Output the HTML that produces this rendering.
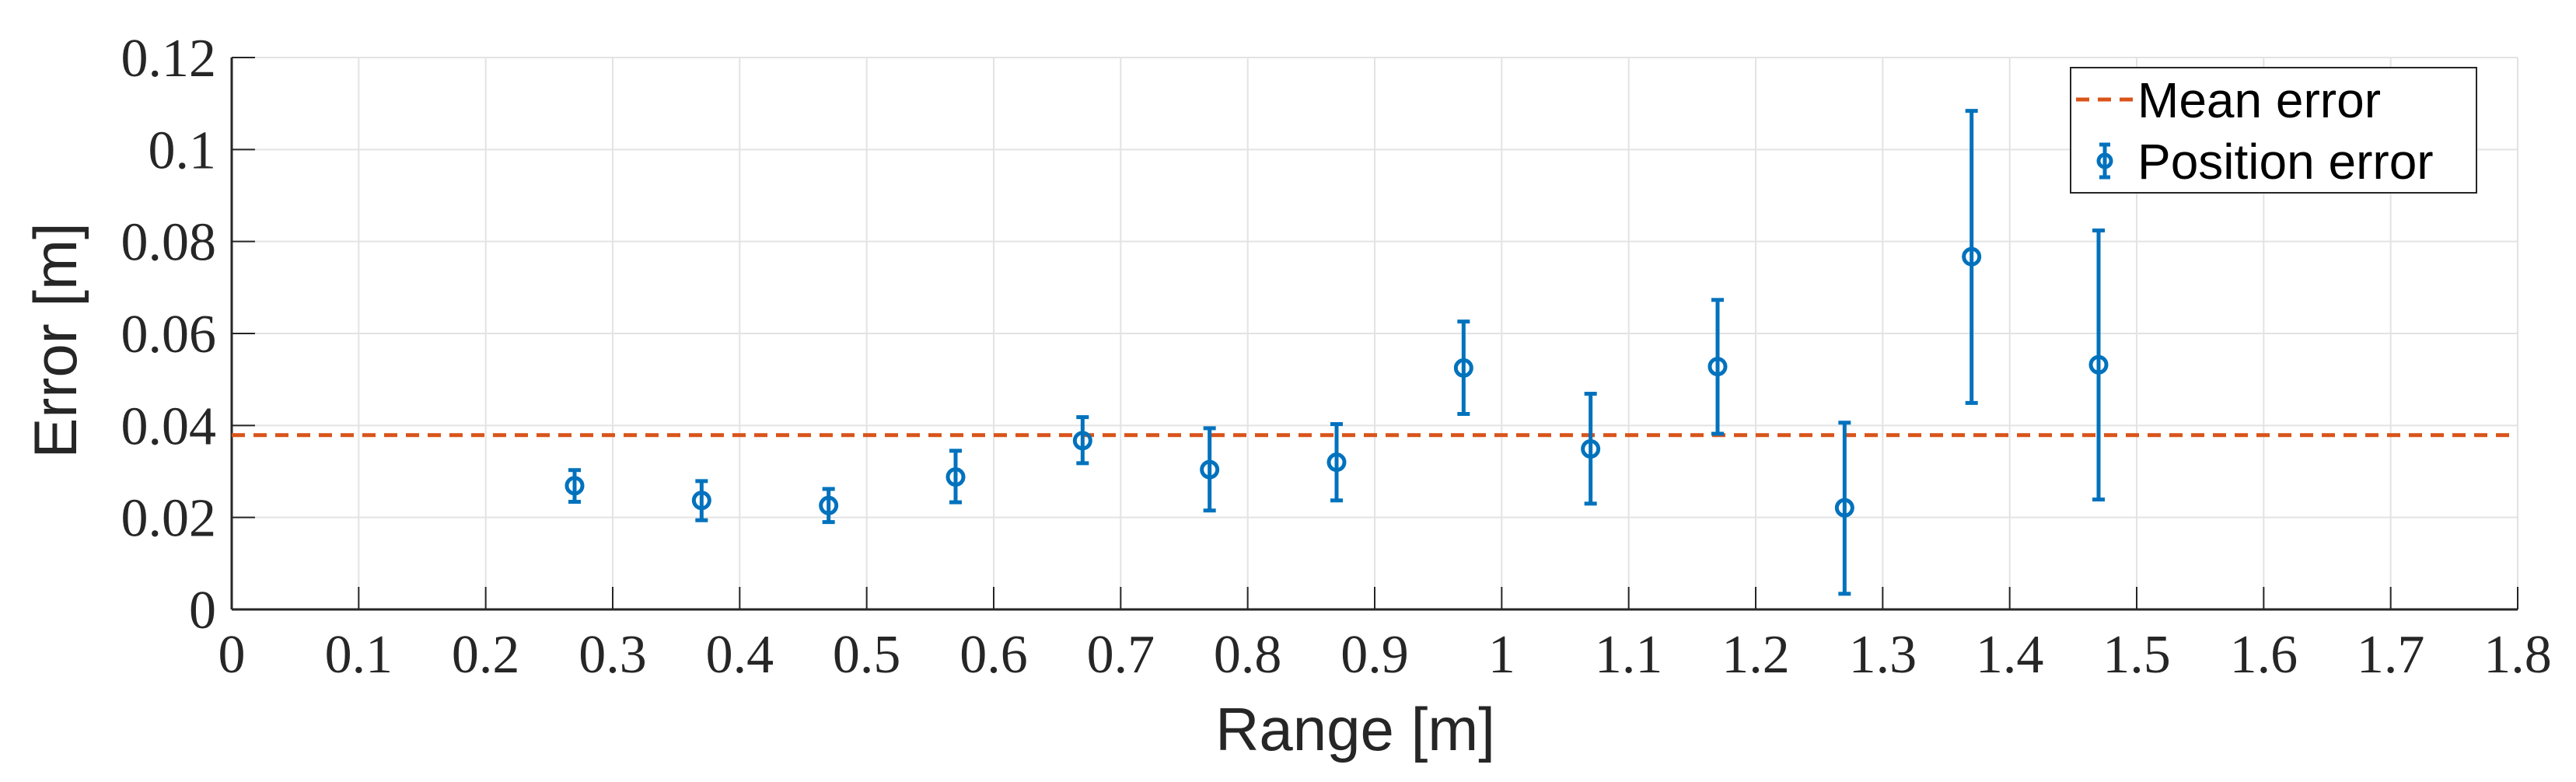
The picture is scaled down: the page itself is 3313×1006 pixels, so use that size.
<!DOCTYPE html>
<html><head><meta charset="utf-8"><style>
html,body{margin:0;padding:0;background:#fff;}
svg{display:block;}
.tick{font-family:"Liberation Serif",serif;font-size:70px;fill:#262626;}
.lab{font-family:"Liberation Sans",sans-serif;font-size:78px;fill:#262626;}
.leg{font-family:"Liberation Sans",sans-serif;font-size:64px;fill:#000;}
</style></head><body>
<svg id="chart" width="3313" height="1006" viewBox="0 0 3313 1006">
<g id="grid"></g>
<g id="axes"></g>
<g id="mean"></g>
<g id="pts"></g>
<text class="lab" x="1743" y="965" text-anchor="middle">Range [m]</text>
<text class="lab" transform="translate(98,438) rotate(-90)" text-anchor="middle">Error [m]</text>
<g>
<rect x="2663" y="87" width="522" height="161" fill="#fff" stroke="#262626" stroke-width="2"/>
<line x1="2670" y1="128" x2="2743" y2="128" stroke="#D95319" stroke-width="5" stroke-dasharray="17,11"/>
<text class="leg" x="2749" y="151">Mean error</text>
<g>
<line x1="2707" y1="186" x2="2707" y2="228" stroke="#0072BD" stroke-width="5"/>
<line x1="2700" y1="186" x2="2714" y2="186" stroke="#0072BD" stroke-width="5"/>
<line x1="2700" y1="228" x2="2714" y2="228" stroke="#0072BD" stroke-width="5"/>
<circle cx="2707" cy="207" r="8" fill="none" stroke="#0072BD" stroke-width="5"/>
</g>
<text class="leg" x="2749" y="230">Position error</text>
</g>
</svg>
<script>
const xTicks=[0,0.1,0.2,0.3,0.4,0.5,0.6,0.7,0.8,0.9,1,1.1,1.2,1.3,1.4,1.5,1.6,1.7,1.8];
const xTickLabels=["0","0.1","0.2","0.3","0.4","0.5","0.6","0.7","0.8","0.9","1","1.1","1.2","1.3","1.4","1.5","1.6","1.7","1.8"];
const yTicks=[0,0.02,0.04,0.06,0.08,0.1,0.12];
const yTickLabels=["0","0.02","0.04","0.06","0.08","0.1","0.12"];
const ranges=[0.27,0.37,0.47,0.57,0.67,0.77,0.87,0.97,1.07,1.17,1.27,1.37,1.47];
const errMean=[0.0269,0.0237,0.0226,0.0288,0.0367,0.0304,0.0320,0.0525,0.0349,0.0528,0.0221,0.0767,0.0532];
const errUpper=[0.0303,0.0279,0.0262,0.0345,0.0418,0.0394,0.0403,0.0626,0.0469,0.0673,0.0406,0.1084,0.0824];
const errLower=[0.0234,0.0194,0.0190,0.0233,0.0318,0.0215,0.0237,0.0425,0.0230,0.0382,0.0034,0.0449,0.0239];
const meanError=0.0379;
const L=298,R=3238,T=74,B=784;
const X=v=>L+(v-0)/1.8*(R-L);
const Y=v=>B-(v-0)/0.12*(B-T);
const NS="http://www.w3.org/2000/svg";
function mk(tag,attrs,parent){const e=document.createElementNS(NS,tag);for(const k in attrs)e.setAttribute(k,attrs[k]);parent.appendChild(e);return e;}
const grid=document.getElementById('grid'),axes=document.getElementById('axes');
xTicks.forEach((t,i)=>{
  const gl=mk('line',{x1:X(t),x2:X(t),y1:T,y2:B,stroke:'#e3e3e3','stroke-width':2},grid);
  
  
  const tk=mk('line',{x1:X(t),x2:X(t),y1:B,y2:B-29,stroke:'#262626','stroke-width':2},axes);
  
  
  const tx=mk('text',{x:X(t),y:865,'text-anchor':'middle',class:'tick'},axes);
  tx.textContent=xTickLabels[i];
  
  
});
yTicks.forEach((t,i)=>{
  const gl=mk('line',{x1:L,x2:R,y1:Y(t),y2:Y(t),stroke:'#e3e3e3','stroke-width':2},grid);
  
  
  const tk=mk('line',{x1:L,x2:L+30,y1:Y(t),y2:Y(t),stroke:'#262626','stroke-width':2},axes);
  
  
  const tx=mk('text',{x:278,y:Y(t)+24,'text-anchor':'end',class:'tick'},axes);
  tx.textContent=yTickLabels[i];
  
  
});
const xa=mk('line',{x1:L,x2:R,y1:B,y2:B,stroke:'#262626','stroke-width':3},axes);


const ya=mk('line',{x1:L,x2:L,y1:T,y2:B,stroke:'#262626','stroke-width':3},axes);


const ml=mk('line',{x1:L,x2:R,y1:Y(meanError),y2:Y(meanError),stroke:'#D95319','stroke-width':5,'stroke-dasharray':'17,11'},document.getElementById('mean'));


const pts=document.getElementById('pts');
ranges.forEach((r,i)=>{
  const g=mk('g',{},pts);
  
  
  const x=X(r);
  mk('line',{x1:x,x2:x,y1:Y(errUpper[i]),y2:Y(errLower[i]),stroke:'#0072BD','stroke-width':5},g);
  mk('line',{x1:x-8,x2:x+8,y1:Y(errUpper[i]),y2:Y(errUpper[i]),stroke:'#0072BD','stroke-width':5},g);
  mk('line',{x1:x-8,x2:x+8,y1:Y(errLower[i]),y2:Y(errLower[i]),stroke:'#0072BD','stroke-width':5},g);
  mk('circle',{cx:x,cy:Y(errMean[i]),r:10,fill:'none',stroke:'#0072BD','stroke-width':5},g);
});
</script>
</body></html>
